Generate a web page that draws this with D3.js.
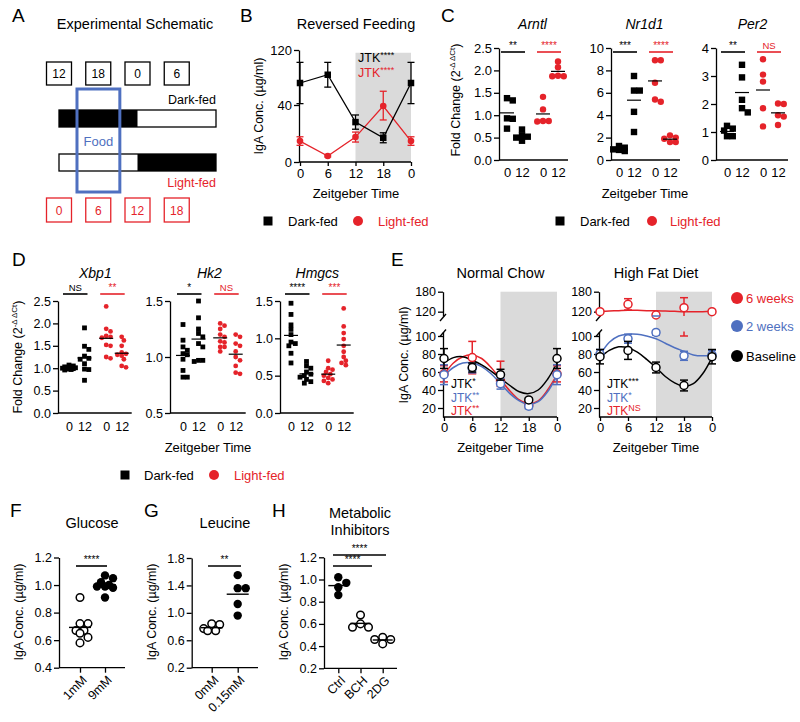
<!DOCTYPE html>
<html><head><meta charset="utf-8">
<script src="https://cdnjs.cloudflare.com/ajax/libs/d3/7.8.5/d3.min.js"></script>
<style>body{margin:0;background:#fff}</style>
</head><body><script>
// ================= DATA =================
// Panel A (schematic)
const schemSlots=[0,6,12,18];
const schemTopLabels=["12","18","0","6"];
const schemBottomLabels=["0","6","12","18"];
const darkFedBlack=[0,12];
const lightFedBlack=[12,24];
const foodWindow=[2.75,9.3];
// Panel B
const bTimes=[0,6,12,18,24];
const bTickLabels=["0","6","12","18","0"];
const bYTicks=[0,40,120];
const bDark=[72,84,28,17,72];
const bDarkLo=[42,66,23,13.5,42];
const bDarkHi=[102,102,33,20.5,102];
const bLight=[14.7,4.2,17.5,39.3,14.7];
const bLightLo=[11.7,3.6,14,29.5,11.7];
const bLightHi=[17.7,4.8,21,60,17.7];
const nightWindow=[12,24];
// Panel C
const groupLabels=["0","12","0","12"];
const cGenes=["Arntl","Nr1d1","Per2"];
const cArntl=[[1.38,1.33,0.93,0.92,0.70],[0.68,0.55,0.52,0.50,0.43],[1.41,1.13,0.87,0.86,0.87],[2.2,2.07,1.87,1.88,1.87]];
const cNr1d1=[[1.25,1.1,0.95,0.9,0.8],[7.5,6.2,6.2,4.3,2.5],[8.9,8.9,5.2,5.4,6.9],[2.2,2.0,1.9,1.6,1.6]];
const cPer2=[[1.22,1.12,1.05,0.85,0.85],[3.4,2.95,2.15,1.85,1.7],[3.6,3.05,2.8,1.85,1.2],[2.02,2.0,1.6,1.55,1.25]];
const cDomains=[[0,2.5],[0,10],[0,4]];
const cTicks=[[0,0.5,1,1.5,2,2.5],[0,2,4,6,8,10],[0,1,2,3,4]];
const cSig=[["**","****"],["***","****"],["**","NS"]];
// Panel D
const dGenes=["Xbp1","Hk2","Hmgcs"];
const dXbp1=[[1.07,1.05,1.03,1.0,1.0,0.99,0.98,0.97,0.96,1.01],[1.9,1.49,1.42,1.27,1.22,1.2,1.1,0.98,0.97,0.73],[2.38,1.88,1.82,1.72,1.70,1.68,1.52,1.50,1.25,1.22],[1.7,1.62,1.5,1.35,1.32,1.3,1.28,1.2,1.05,1.02]];
const dHk2=[[1.29,1.15,1.09,1.06,1.03,1.02,0.98,0.88,0.82,0.82],[1.5,1.35,1.25,1.21,1.18,1.12,1.09,0.97,0.96,0.97],[1.3,1.28,1.25,1.2,1.18,1.14,1.13,1.09,1.09,1.05],[1.2,1.18,1.12,1.1,1.05,1.0,0.97,0.92,0.86,0.85]];
const dHmgcs=[[1.47,1.32,1.18,1.12,1.05,0.95,0.93,0.9,0.8,0.67],[0.69,0.63,0.6,0.55,0.52,0.5,0.48,0.45,0.42,0.4],[0.7,0.6,0.58,0.55,0.52,0.5,0.47,0.45,0.43,0.4],[1.4,1.16,1.07,0.99,0.9,0.82,0.75,0.7,0.67,0.64]];
const dDomains=[[0,2.5],[0.5,1.5],[0,1.5]];
const dTicks=[[0,0.5,1,1.5,2,2.5],[0.5,1,1.5],[0,0.5,1,1.5]];
const dSig=[["NS","**"],["*","NS"],["****","***"]];
// Panel E
const eTimes=[0,6,12,18,24];
const eTickLabels=["0","6","12","18","0"];
const eLowTicks=[20,40,60,80,100];
const eHighTicks=[120,180];
const curveTimes=[0,2,4,6,8,10,12,14,16,18,20,22,24];
const ncRed=[58,76,50,23,58], ncRedLo=[49,58,44,20,49], ncRedHi=[67,94,72,26,67];
const ncBlue=[57,64,47,22,57], ncBlueLo=[46,59,41,19,46], ncBlueHi=[68,69,53,25,68];
const ncBlack=[75,65,57,29,75], ncBlackLo=[64,60,51,27,64], ncBlackHi=[86,70,63,31,86];
const ncRedCurve=[57,70,77,79,75,65,52,39,29,25,28,40,57];
const ncBlueCurve=[56,65,70,70,66,58,47,36,28,24,27,38,56];
const ncBlackCurve=[70,76,77,73,68,61,53,45,38,36,40,52,70];
const hfRed=[120,142,110,132,120], hfRedLo=[117,125,110,100,117], hfRedHi=[123,159,110,162,123];
const hfBlue=[80,97,104,78,79], hfBlueLo=[75,92,101,73,74], hfBlueHi=[85,102,107,83,84];
const hfBlack=[77,84,65,45,77], hfBlackLo=[69,74,59,39,69], hfBlackHi=[85,94,71,51,85];
const hfRedCurve=[121,122,123,124,124,123,123,122,121,120,120,120,121];
const hfBlueCurve=[79,93,100,102,102,100,97,92,87,83,79,78,79];
const hfBlackCurve=[76,84,88,87,82,74,65,55,48,44,47,58,76];
const eLegend=["6 weeks","2 weeks","Baseline"];
// Panel F, G, H
const fCats=["1mM","9mM"];
const fVals=[[0.91,0.72,0.72,0.67,0.67,0.65,0.62,0.58],[1.07,1.05,1.02,1.0,0.99,0.99,0.98,0.91]];
const fTicks=[0.4,0.6,0.8,1.0,1.2];
const gCats=["0mM","0.15mM"];
const gVals=[[0.83,0.84,0.77,0.74,0.74],[1.55,1.36,1.36,1.13,0.96]];
const gTicks=[0.2,0.6,1.0,1.4,1.8];
const hCats=["Ctrl","BCH","2DG"];
const hVals=[[1.02,0.97,0.93,0.86],[0.68,0.6,0.57,0.57],[0.48,0.46,0.46,0.42]];
const hTicks=[0.2,0.4,0.6,0.8,1.0,1.2];

// ================= DRAWING =================
const FONT='"Liberation Sans", Arial, Helvetica, sans-serif';
const RED="#e5232a", BLUE="#4f70c0", GRAY="#dadada";
const svg=d3.select('body').append('svg').attr('width',800).attr('height',722).attr('font-family',FONT);

function label(x,y,str,o={}){
  const t=svg.append('text').attr('x',x).attr('y',y).text(str)
    .attr('font-size',o.fs||13).attr('fill',o.fill||'#000').attr('text-anchor',o.anchor||'start');
  if(o.italic) t.attr('font-style','italic');
  return t;
}
function vlabel(x,y,str,fs){
  return svg.append('text').attr('transform',`translate(${x},${y}) rotate(-90)`).attr('text-anchor','middle')
    .attr('font-size',fs||12.5).text(str);
}
function styleAxis(sel,fs){
  sel.attr('font-family',FONT).attr('font-size',fs||12.5);
  sel.select('.domain').attr('stroke','#000').attr('stroke-width',1.3);
  sel.selectAll('.tick line').attr('stroke','#000').attr('stroke-width',1.3);
  sel.selectAll('.tick text').attr('fill','#000');
}
function yAxis(x,scale,ticks,fmt,fs){
  const g=svg.append('g').attr('transform',`translate(${x},0)`)
    .call(d3.axisLeft(scale).tickValues(ticks).tickSize(5).tickSizeOuter(0).tickPadding(2).tickFormat(fmt||(d=>d)));
  styleAxis(g,fs); return g;
}
function panelLetter(x,y,s){label(x,y,s,{fs:19});}
function sup(t,base,supTxt,fill){
  t.text(null);
  t.append('tspan').text(base);
  t.append('tspan').attr('dy',-4).attr('font-size',9).attr('fill',fill).text(supTxt);
}
// deterministic compact swarm: points may overlap a little, horizontal spread is capped
function swarm(vals,ys,cx,minDist,gap,maxOff){
  const placed=[],out=[];
  const order=vals.map((v,i)=>i).sort((a,b)=>vals[b]-vals[a]);
  const cands=[0];for(let j=1;j*gap<=maxOff+0.01;j++){cands.push(j*gap,-j*gap);}
  for(const i of order){
    const y=ys(vals[i]);let best=cx,bestD=-1;
    for(const dx of cands){
      const d=placed.length?d3.min(placed,p=>Math.hypot(p.x-(cx+dx),p.y-y)):1e9;
      if(d>=minDist){best=cx+dx;bestD=d;break;}
      if(d>bestD){bestD=d;best=cx+dx;}
    }
    placed.push({x:best,y});out[i]={x:best,y};
  }
  return out;
}
function drawPoint(x,y,shape,fill,size,stroke){
  if(shape==='sq') svg.append('rect').attr('x',x-size/2).attr('y',y-size/2).attr('width',size).attr('height',size).attr('fill',fill);
  else if(shape==='open') svg.append('circle').attr('cx',x).attr('cy',y).attr('r',size).attr('fill','#fff').attr('stroke',stroke||'#000').attr('stroke-width',1.5);
  else svg.append('circle').attr('cx',x).attr('cy',y).attr('r',size).attr('fill',fill);
}
function hline(x1,x2,y,color,w){svg.append('line').attr('x1',x1).attr('x2',x2).attr('y1',y).attr('y2',y).attr('stroke',color).attr('stroke-width',w||1.3);}
function vline(x,y1,y2,color,w){svg.append('line').attr('x1',x).attr('x2',x).attr('y1',y1).attr('y2',y2).attr('stroke',color).attr('stroke-width',w||1.3);}

// ---------- Panel A ----------
panelLetter(12,22,"A");
label(135,29,"Experimental Schematic",{fs:14.5,anchor:'middle'});
const xA=d3.scaleLinear().domain([0,24]).range([59,216]);
schemSlots.forEach((s,i)=>{
  svg.append('rect').attr('x',xA(s)-12.5).attr('y',62).attr('width',25).attr('height',23).attr('fill','#fff').attr('stroke','#000').attr('stroke-width',1.3);
  label(xA(s),78,schemTopLabels[i],{fs:12,anchor:'middle'});
  svg.append('rect').attr('x',xA(s)-12.5).attr('y',198).attr('width',25).attr('height',24).attr('fill','#fff').attr('stroke',RED).attr('stroke-width',1.3);
  label(xA(s),214.5,schemBottomLabels[i],{fs:12,anchor:'middle',fill:RED});
});
[[110,darkFedBlack],[154,lightFedBlack]].forEach(([y,blk])=>{
  svg.append('rect').attr('x',xA(0)).attr('y',y).attr('width',xA(24)-xA(0)).attr('height',17).attr('fill','#fff').attr('stroke','#000').attr('stroke-width',1.3);
  svg.append('rect').attr('x',xA(blk[0])).attr('y',y).attr('width',xA(blk[1])-xA(blk[0])).attr('height',17).attr('fill','#000');
});
label(xA(24),104,"Dark-fed",{fs:12.5,anchor:'end'});
label(xA(24),187,"Light-fed",{fs:12.5,anchor:'end',fill:RED});
svg.append('rect').attr('x',xA(foodWindow[0])).attr('y',89).attr('width',xA(foodWindow[1])-xA(foodWindow[0])).attr('height',103).attr('fill','none').attr('stroke',BLUE).attr('stroke-width',3);
label((xA(foodWindow[0])+xA(foodWindow[1]))/2,146,"Food",{fs:13,anchor:'middle',fill:BLUE});

// ---------- Panel B ----------
panelLetter(240,22,"B");
label(356,29,"Reversed Feeding",{fs:14.5,anchor:'middle'});
const xB=d3.scaleLinear().domain([0,24]).range([300,411]);
const yB=d3.scaleLinear().domain([0,40,120]).range([162,105,50]);
svg.append('rect').attr('x',xB(nightWindow[0])).attr('y',yB(116)).attr('width',xB(nightWindow[1])-xB(nightWindow[0])).attr('height',yB(0)-yB(116)).attr('fill',GRAY);
yAxis(xB(0)-1,yB,bYTicks,d=>d,13);
{
  const g=svg.append('g').attr('transform',`translate(0,${yB(0)})`)
    .call(d3.axisBottom(xB).tickValues(bTimes).tickSize(4).tickPadding(3).tickSizeOuter(0).tickFormat((d,i)=>bTickLabels[i]));
  styleAxis(g,13);
  g.select('.domain').attr('d',`M${xB(0)-1},0H${xB(24)}`);
}
label(356,198,"Zeitgeber Time",{fs:13,anchor:'middle'});
vlabel(263,106,"IgA Conc. (µg/ml)",12.5);
function errBars(xs,ys,times,lo,hi,color,cap){
  times.forEach((t,i)=>{
    vline(xs(t),ys(lo[i]),ys(hi[i]),color,1.3);
    hline(xs(t)-cap,xs(t)+cap,ys(lo[i]),color,1.3);
    hline(xs(t)-cap,xs(t)+cap,ys(hi[i]),color,1.3);
  });
}
const lineB=(vals)=>d3.line().x((d,i)=>xB(bTimes[i])).y(d=>yB(d))(vals);
svg.append('path').attr('d',lineB(bLight)).attr('fill','none').attr('stroke',RED).attr('stroke-width',1.3);
errBars(xB,yB,bTimes,bLightLo,bLightHi,RED,3.5);
bTimes.forEach((t,i)=>drawPoint(xB(t),yB(bLight[i]),'circ',RED,3.3));
svg.append('path').attr('d',lineB(bDark)).attr('fill','none').attr('stroke','#000').attr('stroke-width',1.3);
errBars(xB,yB,bTimes,bDarkLo,bDarkHi,'#000',3.5);
bTimes.forEach((t,i)=>drawPoint(xB(t),yB(bDark[i]),'sq','#000',6.5));
sup(label(358,62,"",{fs:12.5}),"JTK","****",'#000');
sup(label(358,77,"",{fs:12.5,fill:RED}),"JTK","****",RED);
// B legend
drawPoint(268,221,'sq','#000',9);
label(288,226,"Dark-fed",{fs:13});
drawPoint(358,221,'circ',RED,5);
label(378,226,"Light-fed",{fs:13,fill:RED});

// ---------- Scatter helper for C / D ----------
function geneScatter(o){
  const ys=d3.scaleLinear().domain(o.domain).range(o.yRange);
  const xs=d3.scaleLinear().domain([0,1]).range([o.start,o.start+o.unit]);
  const pos=[0,1,2.4,3.4];
  label(xs(1.7),o.titleY,o.title,{fs:14,anchor:'middle',italic:true});
  yAxis(o.axisX,ys,o.ticks,o.fmt,o.fs);
  const g=svg.append('g').attr('transform',`translate(0,${o.yRange[0]})`)
    .call(d3.axisBottom(xs).tickValues(pos).tickSize(0).tickPadding(o.pad).tickFormat((d,i)=>groupLabels[i]));
  styleAxis(g,o.fs);
  g.select('.domain').attr('d',`M${o.axisX},0H${xs(3.4)+10}`);
  [[0,1,'#000'],[2.4,3.4,RED]].forEach(([a,b,c],k)=>{
    hline(xs(a)-6,xs(b)+3,o.sigY,c,1.6);
    label((xs(a)-6+xs(b)+3)/2,o.sigY-3,o.sig[k],{fs:o.sig[k]==='NS'?9.5:10,anchor:'middle',fill:c});
  });
  o.groups.forEach((vals,gi)=>{
    const dark=gi<2;
    const pts=swarm(vals,ys,xs(pos[gi]),o.r*1.7,o.r*0.9,o.maxOff);
    pts.forEach(p=>drawPoint(p.x,p.y,dark?'sq':'circ',dark?'#000':RED,dark?o.r*2:o.r));
    hline(xs(pos[gi])-o.mh,xs(pos[gi])+o.mh,ys(d3.mean(vals)),'#000',1.2);
  });
}
// ---------- Panel C ----------
panelLetter(441,22,"C");
const cGroups=[cArntl,cNr1d1,cPer2];
const cAxisX=[499,611,716], cStart=[507,619,727];
cGenes.forEach((gname,i)=>geneScatter({title:gname,titleY:29,domain:cDomains[i],yRange:[160,48],ticks:cTicks[i],
  fmt:i===0?d3.format('.1f'):(d=>d),axisX:cAxisX[i],start:cStart[i],unit:15,groups:cGroups[i],sig:cSig[i],sigY:52,r:3.2,mh:7,maxOff:6,pad:8,fs:13}));
{
  const t=svg.append('text').attr('transform','translate(460,100) rotate(-90)').attr('text-anchor','middle').attr('font-size',12.5);
  t.append('tspan').text('Fold Change (2');
  t.append('tspan').attr('dy',-5).attr('font-size',8).text('-Δ ΔCt');
  t.append('tspan').attr('dy',5).text(')');
}
label(645,198,"Zeitgeber Time",{fs:13,anchor:'middle'});
drawPoint(560,221,'sq','#000',9);
label(580,226,"Dark-fed",{fs:13});
drawPoint(652,221,'circ',RED,5);
label(670,226,"Light-fed",{fs:13,fill:RED});

// ---------- Panel D ----------
panelLetter(12,266,"D");
const dGroups=[dXbp1,dHk2,dHmgcs];
const dAxisX=[58,170,280], dStart=[69,183,291];
dGenes.forEach((gname,i)=>geneScatter({title:gname,titleY:278,domain:dDomains[i],yRange:[413,301],ticks:dTicks[i],
  fmt:d3.format('.1f'),axisX:dAxisX[i],start:dStart[i],unit:15.5,groups:dGroups[i],sig:dSig[i],sigY:294,r:2.4,mh:7,maxOff:6.5,pad:9,fs:12.5}));
{
  const t=svg.append('text').attr('transform','translate(22,357) rotate(-90)').attr('text-anchor','middle').attr('font-size',12.5);
  t.append('tspan').text('Fold Change (2');
  t.append('tspan').attr('dy',-5).attr('font-size',8).text('-Δ ΔCt');
  t.append('tspan').attr('dy',5).text(')');
}
label(208,452,"Zeitgeber Time",{fs:13,anchor:'middle'});
drawPoint(125,475,'sq','#000',9);
label(144,480,"Dark-fed",{fs:13});
drawPoint(214,475,'circ',RED,5);
label(234,480,"Light-fed",{fs:13,fill:RED});

// ---------- Panel E ----------
panelLetter(391,266,"E");
const yE=d3.scaleLinear().domain([10,105,107,180]).range([417,331.5,316,291.7]);
const yElow=d3.scaleLinear().domain([10,105]).range([417,331.5]);
const yEhigh=d3.scaleLinear().domain([107,180]).range([316,291.7]);
function eSubplot(o){
  const xs=d3.scaleLinear().domain([0,24]).range([o.x0,o.x1]);
  label((o.x0+o.x1)/2,278,o.title,{fs:14.5,anchor:'middle'});
  svg.append('rect').attr('x',xs(nightWindow[0])).attr('y',yE(180)).attr('width',xs(nightWindow[1])-xs(nightWindow[0])).attr('height',yE(10)-yE(180)).attr('fill',GRAY);
  const ax=o.x0-1;
  yAxis(ax,yElow,eLowTicks,d=>d,12.5);
  yAxis(ax,yEhigh,eHighTicks,d=>d,12.5);
  [yElow(105)+2,yEhigh(107)+2].forEach(y=>svg.append('line').attr('x1',ax-3).attr('x2',ax+3).attr('y1',y+3).attr('y2',y-4).attr('stroke','#000').attr('stroke-width',1.3));
  const g=svg.append('g').attr('transform',`translate(0,${yE(10)})`)
    .call(d3.axisBottom(xs).tickValues(eTimes).tickSize(4).tickPadding(2).tickSizeOuter(0).tickFormat((d,i)=>eTickLabels[i]));
  styleAxis(g,13);
  g.select('.domain').attr('d',`M${ax},0H${xs(24)}`);
  label((o.x0+o.x1)/2,452,"Zeitgeber Time",{fs:13,anchor:'middle'});
  const line=d3.line().x((d,i)=>xs(curveTimes[i])).y(d=>yE(d)).curve(d3.curveCatmullRom.alpha(0.5));
  o.series.forEach(s=>{
    svg.append('path').attr('d',line(s.curve)).attr('fill','none').attr('stroke',s.color).attr('stroke-width',1.5);
  });
  o.series.forEach(s=>{
    eTimes.forEach((t,i)=>{
      const lo=s.lo[i],hi=s.hi[i],x=xs(t);
      if(lo<106&&hi>106){
        vline(x,yE(lo),yE(105),s.color,1.5); vline(x,yE(107),yE(hi),s.color,1.5);
      } else vline(x,yE(lo),yE(hi),s.color,1.5);
      if(hi>lo){hline(x-4,x+4,yE(lo),s.color,1.5);hline(x-4,x+4,yE(hi),s.color,1.5);}
    });
    eTimes.forEach((t,i)=>drawPoint(xs(t),yE(s.vals[i]),'open','#fff',4,s.color));
  });
  o.jtk.forEach((j,k)=>{
    const t=label(o.x0+7,388+k*13.5,"",{fs:12,fill:j.color});
    sup(t,"JTK",j.s,j.color);
  });
}
eSubplot({x0:444,x1:557,title:"Normal Chow",series:[
  {color:RED,vals:ncRed,lo:ncRedLo,hi:ncRedHi,curve:ncRedCurve},
  {color:BLUE,vals:ncBlue,lo:ncBlueLo,hi:ncBlueHi,curve:ncBlueCurve},
  {color:'#000',vals:ncBlack,lo:ncBlackLo,hi:ncBlackHi,curve:ncBlackCurve}],
  jtk:[{color:'#000',s:'*'},{color:BLUE,s:'**'},{color:RED,s:'**'}]});
eSubplot({x0:600,x1:712,title:"High Fat Diet",series:[
  {color:RED,vals:hfRed,lo:hfRedLo,hi:hfRedHi,curve:hfRedCurve},
  {color:BLUE,vals:hfBlue,lo:hfBlueLo,hi:hfBlueHi,curve:hfBlueCurve},
  {color:'#000',vals:hfBlack,lo:hfBlackLo,hi:hfBlackHi,curve:hfBlackCurve}],
  jtk:[{color:'#000',s:'***'},{color:BLUE,s:'*'},{color:RED,s:'NS'}]});
vlabel(408,355,"IgA Conc. (µg/ml)",12.5);
[RED,BLUE,'#000'].forEach((c,i)=>{
  const y=[298,326,356][i];
  drawPoint(737,y,'circ',c,6);
  label(746,y+5,eLegend[i],{fs:13,fill:c});
});

// ---------- Panels F, G, H ----------
function dotPanel(o){
  const ys=d3.scaleLinear().domain(o.domain).range(o.yRange);
  const xs=d3.scalePoint().domain(o.cats).range(o.xRange);
  o.titles.forEach((t,k)=>label(o.titleX,o.titleY+k*17,t,{fs:14.5,anchor:'middle'}));
  yAxis(o.axisX,ys,o.ticks,d3.format('.1f'),12.5);
  const g=svg.append('g').attr('transform',`translate(0,${o.yRange[0]})`)
    .call(d3.axisBottom(xs).tickSize(5).tickSizeOuter(0));
  styleAxis(g,12.5);
  g.select('.domain').attr('d',`M${o.axisX},0H${o.xEnd}`);
  g.selectAll('.tick text').attr('y',0).attr('dy','0.35em').attr('text-anchor','end')
    .attr('transform','translate(4,10) rotate(-45)');
  vlabel(o.axisX-36,o.labelY,"IgA Conc. (µg/ml)",12.5);
  o.sigs.forEach(s=>{
    hline(s.x1,s.x2,s.y,'#000',1.6);
    label((s.x1+s.x2)/2,s.y-3,s.t,{fs:10,anchor:'middle'});
  });
  o.vals.forEach((vals,gi)=>{
    const cx=xs(o.cats[gi]);
    const pts=swarm(vals,ys,cx,7,4,o.maxOff);
    pts.forEach(p=>drawPoint(p.x,p.y,o.open[gi]?'open':'circ','#000',o.open[gi]?3.8:4.2,'#000'));
    hline(cx-o.mh,cx+o.mh,ys(d3.mean(vals)),'#000',1.4);
  });
}
panelLetter(10,517,"F");
dotPanel({cats:fCats,vals:fVals,open:[true,false],domain:[0.4,1.2],yRange:[667.7,557.5],ticks:fTicks,
  xRange:[80,105],axisX:59,xEnd:125,titles:["Glucose"],titleX:92,titleY:528,labelY:612,mh:11,maxOff:9,
  sigs:[{x1:76,x2:107,y:566,t:"****"}]});
panelLetter(144,517,"G");
dotPanel({cats:gCats,vals:gVals,open:[true,false],domain:[0.2,1.8],yRange:[667.7,558],ticks:gTicks,
  xRange:[211.7,237.7],axisX:191.7,xEnd:258,titles:["Leucine"],titleX:225,titleY:528,labelY:612,mh:11,maxOff:10,
  sigs:[{x1:208,x2:241,y:566,t:"**"}]});
panelLetter(272,517,"H");
dotPanel({cats:hCats,vals:hVals,open:[false,true,true],domain:[0.2,1.2],yRange:[668.3,557.3],ticks:hTicks,
  xRange:[338.3,382.7],axisX:324,xEnd:397,titles:["Metabolic","Inhibitors"],titleX:360,titleY:518,labelY:612,mh:10,maxOff:8,
  sigs:[{x1:333,x2:386,y:555,t:"****"},{x1:333,x2:372,y:566,t:"****"}]});
</script></body></html>
